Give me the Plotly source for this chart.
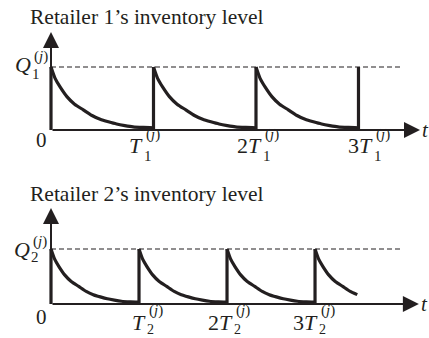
import plotly.graph_objects as go

# decay shape of one replenishment cycle
# (fraction of the cycle, inventory as a fraction of Q)
decay_frac = [0, 0.04, 0.09, 0.155, 0.23, 0.315, 0.4, 0.48, 0.56, 0.64, 0.72, 0.8, 0.9, 1.0]
decay_level = [1.0, 0.82, 0.68, 0.53, 0.41, 0.32, 0.23, 0.17, 0.13, 0.095, 0.07, 0.05, 0.04, 0.035]

# retailer 1: three full cycles, restocked again at 3T
r1_cycle_starts = [0, 1, 2]
r1_restocks = [0, 1, 2, 3]
r1_dash_end = 3.43

# retailer 2: three full cycles, fourth cycle cut off at ~0.48T
r2_cycle_starts = [0, 1, 2, 3]
r2_cycle_lengths = [1.0, 1.0, 1.0, 0.48]
r2_restocks = [0, 1, 2, 3]
r2_dash_end = 4.0

titles = ["Retailer 1\u2019s inventory level", "Retailer 2\u2019s inventory level"]
tick_mult_1 = ["", "2", "3"]
tick_mult_2 = ["", "2", "3"]

ink = "#231f20"
serif = "Liberation Serif"

fig = go.Figure()


def add_panel(xa, ya, starts, lengths, restocks, dash_end):
    # dashed Q level
    fig.add_trace(go.Scatter(x=[0, dash_end], y=[1, 1], mode="lines", xaxis=xa, yaxis=ya,
                             line=dict(color=ink, width=1.1, dash="5px,3px"), hoverinfo="skip"))
    # decays
    xs, ys = [], []
    for s, ln in zip(starts, lengths):
        for f, v in zip(decay_frac, decay_level):
            if f <= ln + 1e-9:
                xs.append(s + f)
                ys.append(v)
        xs.append(None)
        ys.append(None)
    fig.add_trace(go.Scatter(x=xs, y=ys, mode="lines", xaxis=xa, yaxis=ya,
                             line=dict(color=ink, width=3.2, shape="spline", smoothing=0.6),
                             hoverinfo="skip"))
    # restock jumps
    vx, vy = [], []
    for r in restocks:
        vx += [r, r, None]
        vy += [0, 1, None]
    fig.add_trace(go.Scatter(x=vx, y=vy, mode="lines", xaxis=xa, yaxis=ya,
                             line=dict(color=ink, width=3.2), hoverinfo="skip"))


add_panel("x", "y", r1_cycle_starts, [1.0] * 3, r1_restocks, r1_dash_end)
add_panel("x2", "y2", r2_cycle_starts, r2_cycle_lengths, r2_restocks, r2_dash_end)


def axis_arrow(xr, yr, x, y):
    fig.add_annotation(x=x, y=y, ax=0, ay=0, xref=xr, yref=yr, axref=xr, ayref=yr,
                       showarrow=True, arrowhead=2, arrowsize=1.6, arrowwidth=2,
                       arrowcolor=ink, text="")


axis_arrow("x", "y", 3.6, 0)
axis_arrow("x", "y", 0, 1.556)
axis_arrow("x2", "y2", 4.18, 0)
axis_arrow("x2", "y2", 0, 1.745)


def txt(xr, yr, x, y, text, size, anchor="center", dx=0, dy=0):
    fig.add_annotation(x=x, y=y, xref=xr, yref=yr, text=text, showarrow=False,
                       xanchor=anchor, yanchor="middle", xshift=dx, yshift=dy,
                       font=dict(family=serif, size=size, color=ink))


def stacked(xr, yr, x, y, main, sub, sup, dx, dy_main, dy_sub, dy_sup, sub_size=15):
    txt(xr, yr, x, y, main, 22, "right", dx, dy_main)
    txt(xr, yr, x, y, sub, sub_size, "left", dx - 3, dy_sub)
    txt(xr, yr, x, y, sup, 15, "left", dx - 1, dy_sup)


sup_j = "(<i>j</i>)"

# top panel labels
txt("x", "y", 0, 0, "0", 21, "center", -10, -10)
stacked("x", "y", 0, 1, "<i>Q</i>", "1", sup_j, -18, 2, -7, 10)
shifts_1 = [-9, 8, 17]
for k, (m, dx) in enumerate(zip(tick_mult_1, shifts_1), start=1):
    stacked("x", "y", k, 0, m + "<i>T</i>", "1", sup_j, dx, -15, -26, -4)
txt("x", "y", 3.6, 0, "<i>t</i>", 21, "left", 0, 0)

# bottom panel labels
txt("x2", "y2", 0, 0, "0", 21, "center", -10, -13)
stacked("x2", "y2", 0, 1, "<i>Q</i>", "2", sup_j, -19, 0, -8, 8)
shifts_2 = [9, 8, 5]
for k, (m, dx) in enumerate(zip(tick_mult_2, shifts_2), start=1):
    stacked("x2", "y2", k, 0, m + "<i>T</i>", "2", sup_j, dx, -18, -25, -6, sub_size=14)
txt("x2", "y2", 4.18, 0, "<i>t</i>", 21, "left", 0, 0)

# titles
for t, ypx in zip(titles, [17, 194]):
    fig.add_annotation(x=28 / 429, y=1 - ypx / 338, xref="paper", yref="paper", text=t,
                       showarrow=False, xanchor="left", yanchor="middle",
                       font=dict(family=serif, size=21.5, color=ink))

hidden = dict(visible=False, fixedrange=True)
fig.update_layout(
    width=429, height=338,
    margin=dict(l=0, r=0, t=0, b=0),
    paper_bgcolor="white", plot_bgcolor="white",
    showlegend=False,
    xaxis=dict(range=[-0.4976, 3.688], domain=[0, 1], anchor="y", **hidden),
    yaxis=dict(range=[-0.619, 2.063], domain=[0.5, 1], anchor="x", **hidden),
    xaxis2=dict(range=[-0.5795, 4.295], domain=[0, 1], anchor="y2", **hidden),
    yaxis2=dict(range=[-0.618, 2.455], domain=[0, 0.5], anchor="x2", **hidden),
)

# the page body has a default 8px margin; drop it so the figure fills the window
fig.write_html("out.html", config={"displayModeBar": False},
               post_script="document.body.style.margin='0';")
